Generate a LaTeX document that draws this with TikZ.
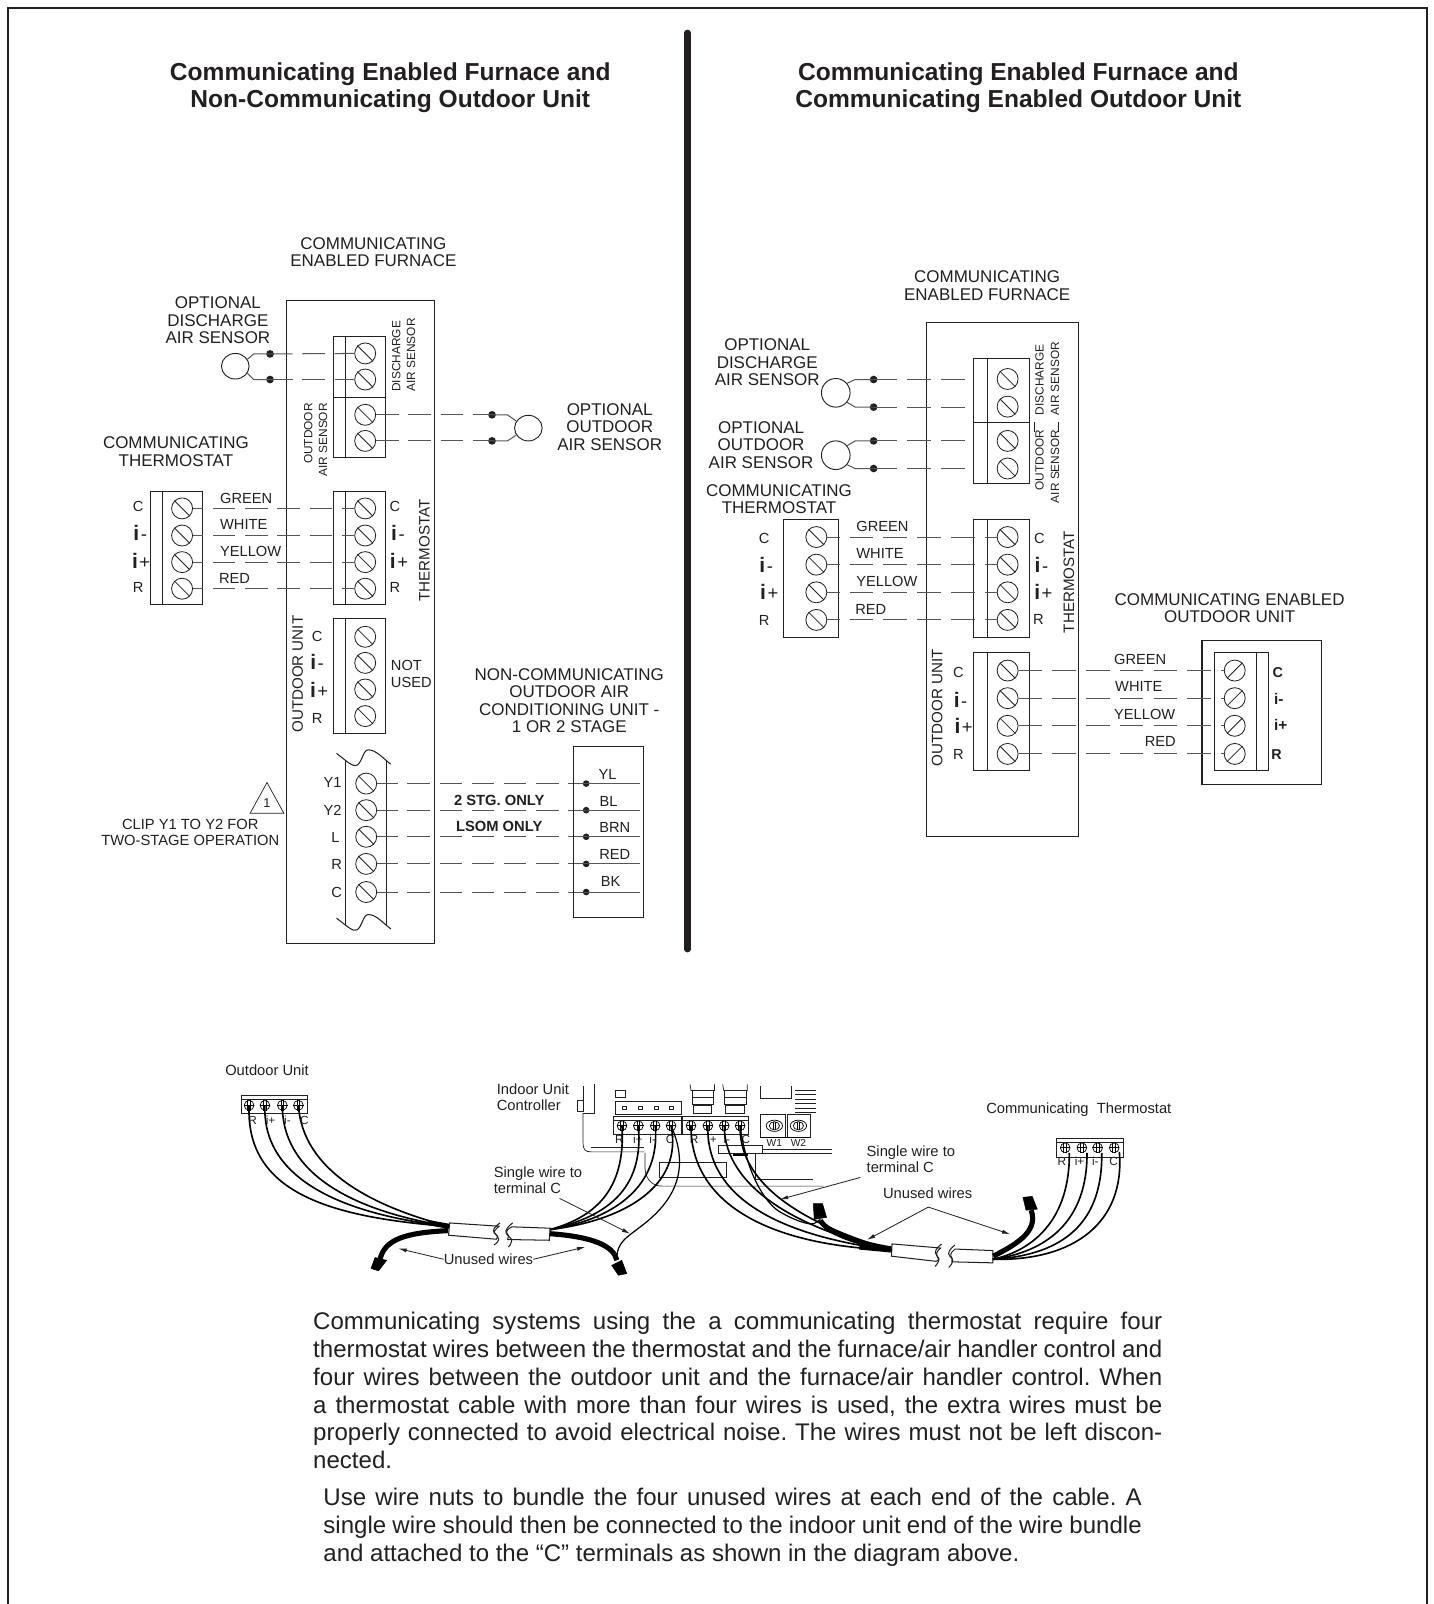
\documentclass[tikz,border=0pt]{standalone}
\usepackage{fontspec}
\setmainfont{Liberation Sans}
\usetikzlibrary{arrows.meta,shapes.geometric}
\definecolor{ink}{HTML}{231F20}
\definecolor{wireink}{HTML}{555555}
\newcounter{lbcnt}
\newcommand{\lab}[3][]{\stepcounter{lbcnt}\node[txt,#1] (lab\thelbcnt) at (#2) {#3};}
\newcommand{\fs}[1]{\fontsize{#1}{#1}\selectfont}
% screw with a back-slash
\newcommand{\screwb}[2]{\node[screwnode] (#1) at (#2) {};\draw[ink,line width=.8] (#1.north west) -- (#1.south east);}
\newcommand{\screwf}[2]{\node[screwnode] (#1) at (#2) {};\draw[ink,line width=.8] (#1.south west) -- (#1.north east);}
% small terminal screw
\newcommand{\minis}[2]{\node[mini] (#1) at (#2) {};\draw[black,line width=1] (#1.west) -- (#1.east);\draw[black,line width=.7] ([xshift=-1.4]#1.north) -- ([xshift=-1.4]#1.south) ([xshift=1.4]#1.north) -- ([xshift=1.4]#1.south);}
\newcommand{\ifont}[1]{{\fs{20.5}\bfseries i}\kern1.5pt{\fs{18}#1}}
\newcommand{\bodyset}{\fontsize{23.5}{27.3}\selectfont\frenchspacing\spaceskip=6.5pt plus 12pt minus 4pt\tolerance=9999\hbadness=10000\hfuzz=30pt}
\tikzset{
  txt/.style={inner sep=0,text=ink,font=\fs{16.6}},
  lbl/.style={txt,font=\fs{14.3}},
  small/.style={txt,font=\fs{11.6}},
  captxt/.style={txt,font=\fs{14.4}},
  tinytxt/.style={txt,font=\fs{11.5}},
  titletxt/.style={txt,font=\fs{24}\bfseries},
  screwnode/.style={circle,draw=ink,line width=.8,minimum size=20.5,inner sep=0,fill=white},
  mini/.style={circle,draw=black,line width=.7,minimum size=9.5,inner sep=0},
  box/.style={draw=ink,line width=1},
  thinbox/.style={draw=ink,line width=.7},
  wire/.style={draw=wireink,line width=1,dash pattern=on 22pt off 9.5pt},
  wireb/.style={draw=wireink,line width=1,dash pattern=on 23pt off 10pt},
  solidw/.style={draw=wireink,line width=1},
  dotn/.style={circle,fill=ink,minimum size=7.5,inner sep=0},
  sensor/.style={ellipse,draw=ink,line width=.9,minimum width=27,minimum height=25,inner sep=0},
  cab/.style={draw=black,line width=1.6},
  thick bundle/.style={draw=black,line width=5},
  arr/.style={draw=ink,line width=.8,-{Latex[length=8pt,width=4pt]}},
  nut/.style={fill=black,draw=black,line width=.5},
}
\begin{document}
\begin{tikzpicture}[x=1pt,y=-1pt]
\path[use as bounding box,fill=white] (0,0) rectangle (1401,1568);
% frame and divider
\draw[ink,line width=2.2] (8,1568) -- (8,8) -- (1395,8) -- (1395,1568);
\draw[ink,line width=6,line cap=round] (672,32) -- (672,928);
% titles
\lab[titletxt,align=center]{381.5,86}{Communicating Enabled Furnace and\\[2pt]Non-Communicating Outdoor Unit}
\lab[titletxt,align=center]{995.5,86}{Communicating Enabled Furnace and\\[2pt]Communicating Enabled Outdoor Unit}

%%%%%%%%%%%%%% LEFT DIAGRAM
\node[box,minimum width=145,minimum height=628,inner sep=0] (furnL) at (352.5,608) {};
\lab[align=center]{365,246.5}{COMMUNICATING\\[.5pt]ENABLED FURNACE}
\lab[align=center]{213,313}{OPTIONAL\\[.5pt]DISCHARGE\\[.5pt]AIR SENSOR}
% discharge / outdoor block
\draw[box] (326,329) rectangle (377,447);
\draw[box] (338,329) -- (338,447) (326,389) -- (377,389);
\screwb{sa}{357,345.5}\screwb{sb}{357,371}\screwb{sc}{357,405.5}\screwb{sd}{357,431}
\node[sensor] (senA) at (230,358) {};
\node[dotn] (da1) at (264,346) {};
\node[dotn] (da2) at (264,371) {};
\draw[solidw] (senA.30) -- (248,346) -- (da1.center) (senA.-30) -- (248,371) -- (da2.center);
\draw[wire,dash phase=0pt] (da1.center) -- (sa.west);
\draw[wire,dash phase=0pt] (da2.center) -- (sb.west);
\node[sensor] (senB) at (516.5,418.5) {};
\node[dotn] (db1) at (481,405.5) {};
\node[dotn] (db2) at (481,431) {};
\draw[wire] (sc.east) -- (db1.center);
\draw[wire] (sd.east) -- (db2.center);
\draw[solidw] (db1.center) -- (496,405.5) -- (senB.150) (db2.center) -- (496,431) -- (senB.210);
\lab[small,rotate=90,anchor=north west,align=left]{383,383}{DISCHARGE\\[3pt]AIR SENSOR}
\lab[small,rotate=90,anchor=north east,align=right]{297,394}{OUTDOOR\\[3pt]AIR SENSOR}
\lab[align=center]{596,417.5}{OPTIONAL\\[.5pt]OUTDOOR\\[.5pt]AIR SENSOR}
% thermostat
\lab[align=center]{172,441.5}{COMMUNICATING\\[.5pt]THERMOSTAT}
\draw[box] (147,480) rectangle (198,590.5);
\draw[box] (158.5,480) -- (158.5,590.5);
\draw[box] (326,480) rectangle (377,590.5);
\draw[box] (338,480) -- (338,590.5);
\foreach \n/\y in {1/497,2/523.5,3/549.5,4/575.5}{
  \screwb{tl\n}{178,\y}\screwb{tc\n}{357,\y}
  \draw[wire,dash phase=12pt] (tl\n.east) -- (tc\n.west);
}
\lab[lbl]{135,495}{C}\lab[lbl]{137,521}{\ifont{-}}\lab[lbl]{138,548}{\ifont{+}}\lab[lbl]{135,574}{R}
\lab[lbl]{386,495}{C}\lab[lbl]{389,521}{\ifont{-}}\lab[lbl]{390,548}{\ifont{+}}\lab[lbl]{386,574}{R}
\lab[lbl,anchor=west]{215,487}{GREEN}\lab[lbl,anchor=west]{215,513}{WHITE}
\lab[lbl,anchor=west]{215,539}{YELLOW}\lab[lbl,anchor=west]{214,565}{RED}
\lab[lbl,rotate=90,font=\fs{14.8}]{415,538}{THERMOSTAT}
% outdoor unit (not used)
\draw[box] (326,605) rectangle (377,717);
\draw[box] (338,605) -- (338,717);
\screwb{ou1}{357,622.5}\screwb{ou2}{357,648}\screwb{ou3}{357,674}\screwb{ou4}{357,700}
\lab[lbl]{310,622}{C}\lab[lbl]{310,647}{\ifont{-}}\lab[lbl]{312,674}{\ifont{+}}\lab[lbl]{310,702}{R}
\lab[lbl,rotate=90,font=\fs{14.8}]{291,659}{OUTDOOR UNIT}
\lab[lbl,align=left,anchor=north west]{382,645}{NOT\\[3pt]USED}
% strip
\draw[box] (329,736.5) .. controls (340,745) and (345,750) .. (349,748) .. controls (354,745) and (355,733) .. (360,733) .. controls (368,733) and (375,742) .. (382,747);
\draw[box] (329,897.5) .. controls (340,906) and (345,911) .. (349,909) .. controls (354,906) and (355,894) .. (360,894) .. controls (368,894) and (375,903) .. (382,908);
\draw[box] (338,743) -- (338,904) (378,744) -- (378,905);
\foreach \n/\y in {1/766,2/792,3/818,4/844.5,5/872}{
  \screwb{y\n}{358,\y}
  \node[dotn,minimum size=6.5] (yd\n) at (573,\y) {};
  \coordinate (ye\n) at (626,\y);
  \draw[wire,dash phase=2pt] (y\n.east) -- (yd\n.center);
  \draw[solidw] (yd\n.center) -- (ye\n);
}
\lab[lbl]{325,765}{Y1}\lab[lbl]{325,792}{Y2}\lab[lbl]{328,819}{L}\lab[lbl]{329,845}{R}\lab[lbl]{329,872}{C}
\draw[thinbox] (261,765) -- (244.5,795) -- (277.5,795) -- cycle;
\lab[small,font=\fs{12.5}]{261,785}{1}
\lab[captxt,align=center]{186,814}{CLIP Y1 TO Y2 FOR\\[1.5pt]TWO-STAGE OPERATION}
\lab[lbl,font=\fs{14.4}\bfseries]{488,782}{2 STG. ONLY}
\lab[lbl,font=\fs{14.4}\bfseries]{488,808}{LSOM ONLY}
\lab[align=center]{556.5,685}{NON-COMMUNICATING\\[.5pt]OUTDOOR AIR\\[.5pt]CONDITIONING UNIT -\\[.5pt]1 OR 2 STAGE}
\node[box,minimum width=68,minimum height=167,inner sep=0] (acbox) at (595,813.5) {};
\lab[lbl]{594,757}{YL}\lab[lbl]{595,783}{BL}\lab[lbl]{601,809}{BRN}\lab[lbl]{601,835}{RED}\lab[lbl]{597,862}{BK}

%%%%%%%%%%%%%% RIGHT DIAGRAM
\node[box,minimum width=149.5,minimum height=503,inner sep=0] (furnR) at (980,566.5) {};
\lab[align=center]{965,279}{COMMUNICATING\\[.5pt]ENABLED FURNACE}
\lab[align=center]{750,354.5}{OPTIONAL\\[.5pt]DISCHARGE\\[.5pt]AIR SENSOR}
\lab[align=center]{744,435}{OPTIONAL\\[.5pt]OUTDOOR\\[.5pt]AIR SENSOR}
\draw[box] (952,350) rectangle (1006,473);
\draw[box] (965,350) -- (965,473) (952,413) -- (1006,413);
\screwb{ra}{985,370.5}\screwb{rb}{985,397.5}\screwb{rc}{985,431}\screwb{rd}{985,458}
\node[sensor,minimum width=28,minimum height=28] (senC) at (817,384) {};
\node[sensor,minimum width=28,minimum height=28] (senD) at (817,445) {};
\foreach \s/\a/\b/\ya/\yb in {senC/raa/rbb/371/398,senD/rcc/rdd/431/458}{
  \node[dotn] (\a) at (854,\ya) {};
  \node[dotn] (\b) at (854,\yb) {};
  \coordinate (\a e) at (946,\ya);
  \coordinate (\b e) at (946,\yb);
  \draw[solidw] (\s.40) -- (836,\ya) -- (\a.center) (\s.-40) -- (836,\yb) -- (\b.center);
  \draw[wireb] (\a.center) -- (\a e);
  \draw[wireb] (\b.center) -- (\b e);
}
\lab[small,rotate=90,anchor=north west,align=left]{1012,406}{DISCHARGE\\[3.5pt]AIR SENSOR}
\lab[small,rotate=90,anchor=north east,align=right]{1012,420}{OUTDOOR\\[3.5pt]AIR SENSOR}
\draw[ink,line width=.8] (1011,413) -- (1011,422) (1035,413) -- (1035,422);
\lab[align=center]{761.5,488}{COMMUNICATING\\[.5pt]THERMOSTAT}
\draw[box] (766,507.5) rectangle (820,623);
\draw[box] (952,507.5) rectangle (1006,623);
\draw[box] (965,507.5) -- (965,623);
\foreach \n/\y in {1/525,2/552,3/579,4/606}{
  \screwb{rtl\n}{798,\y}\screwb{rtc\n}{985,\y}
  \draw[wireb,dash phase=11pt] (rtl\n.east) -- (rtc\n.west);
}
\lab[lbl]{747,526}{C}\lab[lbl]{749,552}{\ifont{-}}\lab[lbl]{752,579}{\ifont{+}}\lab[lbl]{747,607}{R}
\lab[lbl]{1016,526}{C}\lab[lbl]{1018,552}{\ifont{-}}\lab[lbl]{1020,579}{\ifont{+}}\lab[lbl]{1015,606}{R}
\lab[lbl,anchor=west]{837,515}{GREEN}\lab[lbl,anchor=west]{837,541.5}{WHITE}
\lab[lbl,anchor=west]{837,568}{YELLOW}\lab[lbl,anchor=west]{836,595.5}{RED}
\lab[lbl,rotate=90,font=\fs{14.8}]{1045,569}{THERMOSTAT}
% outdoor
\draw[box] (952,637.5) rectangle (1006,753);
\draw[box] (965,637.5) -- (965,753);
\node[box,minimum width=117,minimum height=141,inner sep=0] (rob) at (1233.5,696.5) {};
\draw[box] (1187,637.5) rectangle (1240,753);
\draw[box] (1228,637.5) -- (1228,753);
\foreach \n/\y in {1/655.5,2/682.5,3/709.5,4/737}{
  \screwb{ro\n}{985,\y}\screwf{rp\n}{1207,\y}
  \draw[wireb] (ro\n.east) -- (rp\n.west);
}
\lab[lbl]{937,657}{C}\lab[lbl]{939,684}{\ifont{-}}\lab[lbl]{942,710}{\ifont{+}}\lab[lbl]{937,738}{R}
\lab[lbl,rotate=90,font=\fs{14.8}]{916,692}{OUTDOOR UNIT}
\lab[lbl,font=\fs{14}\bfseries]{1249,657}{C}\lab[lbl,font=\fs{15}\bfseries]{1250,683}{i-}\lab[lbl,font=\fs{15}\bfseries]{1252,709}{i+}\lab[lbl,font=\fs{14}\bfseries]{1248,738}{R}
\lab[lbl,anchor=west]{1089,645}{GREEN}\lab[lbl,anchor=west]{1090,671}{WHITE}
\lab[lbl,anchor=west]{1089,698}{YELLOW}\lab[lbl,anchor=west]{1119,725}{RED}
\lab[align=center]{1202,594.5}{COMMUNICATING ENABLED\\[.5pt]OUTDOOR UNIT}

%%%%%%%%%%%%%% BOTTOM DRAWING
% outdoor unit terminal
\lab[captxt,anchor=west]{220,1046}{Outdoor Unit}
\draw[thinbox] (235.5,1071) rectangle (300.5,1088.5) (235.5,1075) -- (300.5,1075);
\minis{oa}{243.5,1080.5}\minis{ob}{259,1080.5}\minis{oc}{276,1080.5}\minis{od}{291.7,1080.5}
\lab[tinytxt]{247,1095}{R}\lab[tinytxt]{264.5,1095}{i+}\lab[tinytxt]{281,1095}{i-}\lab[tinytxt]{297.5,1095}{C}
% wires to left cable
\coordinate (cl) at (440,1199);
\draw[cab] (oa.center) .. controls (240,1165) and (320,1190) .. (cl);
\draw[cab] (ob.center) .. controls (256,1155) and (340,1188) .. (cl);
\draw[cab] (oc.center) .. controls (276,1150) and (350,1185) .. (cl);
\draw[cab] (od.center) .. controls (296,1145) and (365,1180) .. (cl);
\draw[draw=black,line width=5] (418,1195) -- (cl);
% unused left
\coordinate (nl) at (371.5,1231);
\draw[thick bundle] (438,1203) .. controls (395,1205) and (376,1212) .. (nl);
\fill[nut] (366.6,1229.3) -- (378,1232) -- (370,1242.3) -- (362.7,1240) -- cycle;
% controller
\lab[captxt,anchor=west]{485.5,1065}{Indoor Unit}
\lab[captxt,anchor=west]{485.5,1080.5}{Controller}
\draw[thinbox] (570,1062) -- (570,1086) -- (564.5,1086) -- (564.5,1076) -- (570,1076);
\draw[thinbox] (581,1060) -- (581,1088) -- (570,1088);
\draw[thinbox] (570,1088) -- (570,1117) .. controls (570,1124) and (572,1126) .. (578,1126) -- (630,1126);
\draw[thinbox] (578,1122) -- (630,1122);
\draw[thinbox] (601.5,1065.5) rectangle (611.5,1073);
\draw[thinbox] (602,1076.5) rectangle (666,1089.5);
\foreach \x in {610.4,625.7,641.3,656.7}{\draw[thinbox] (\x-2,1081.5) rectangle (\x+2,1084.5);}
\draw[thinbox] (599.5,1091) rectangle (666,1109) (599.5,1095.5) -- (666,1095.5);
\draw[thinbox] (667.5,1091) rectangle (732,1109) (667.5,1095.5) -- (732,1095.5);
\minis{ia}{608,1100.5}\minis{ib}{624,1100.5}\minis{ic}{640.5,1100.5}\minis{id}{656,1100.5}
\minis{ie}{675.5,1100.5}\minis{if}{692,1100.5}\minis{ig}{708,1100.5}\minis{ih}{723.5,1100.5}
\lab[tinytxt]{605.5,1114}{R}\lab[tinytxt]{623.5,1114}{i+}\lab[tinytxt]{638,1114}{i-}\lab[tinytxt]{655,1114}{C}
\lab[tinytxt]{678.5,1114}{R}\lab[tinytxt]{696,1114}{i+}\lab[tinytxt]{710.5,1114}{i-}\lab[tinytxt]{729,1114}{C}
\foreach \x in {674.5,706.5}{
  \draw[thinbox] (\x,1060) -- (\x+1,1066) -- (\x+24,1066) -- (\x+24,1060);
  \draw[thinbox] (\x+2,1066) rectangle (\x+23,1073) (\x+2,1073) rectangle (\x+23,1080) (\x+3,1081) rectangle (\x+21,1088);
}
\draw[thinbox] (743.5,1062) -- (743.5,1074) -- (774,1074) -- (774,1062);
\foreach \yy in {1066,1070,1075,1079,1083,1087}{\draw[thinbox] (777,\yy) -- (798,\yy);}
\draw[thinbox] (743,1089.5) rectangle (768,1111.5) (770,1089.5) rectangle (792,1111.5);
\draw[black,line width=1.4] (743,1112) -- (792,1112);
\foreach \x/\nm in {757/wa,780.5/wb}{
  \node[mini,ellipse,minimum width=16,minimum height=11] (\nm) at (\x,1100.5) {};
  \node[mini,ellipse,minimum width=10,minimum height=8] (\nm i) at (\x,1100.5) {};
  \draw[black,line width=.7] (\x-1.2,1096.5) -- (\x-1.2,1104.5) (\x+1.2,1096.5) -- (\x+1.2,1104.5);
}
\lab[tinytxt,font=\fs{10}]{757,1117}{W1}\lab[tinytxt,font=\fs{10}]{780.5,1117}{W2}
\draw[thinbox] (702,1119.5) -- (745,1119.5) -- (745,1127) -- (702,1127) -- cycle;
\draw[black,line width=1.3] (717,1129) -- (731,1129);
\draw[thinbox] (745,1124) -- (813,1124) (745,1127) -- (813,1127);
\draw[thinbox] (738,1127) -- (738,1153) -- (795,1153);
\draw[thinbox] (645,1136) rectangle (710,1151);
\draw[thinbox] (630.5,1127) -- (630.5,1142) .. controls (631,1153) and (638,1159.5) .. (647,1159.5) -- (805,1159.5);
% wires right of left controller
\coordinate (cr) at (537.7,1202);
\draw[cab] (ia.center) .. controls (612,1165) and (580,1190) .. (cr);
\draw[cab] (ib.center) .. controls (630,1165) and (590,1190) .. (cr);
\draw[cab] (ic.center) .. controls (646,1160) and (600,1192) .. (cr);
\draw[cab] (id.center) .. controls (668,1160) and (610,1193) .. (cr);
\coordinate (nr) at (603,1232);
\draw[cab,line width=1.2] (id.center) .. controls (678,1150) and (652,1180) .. (625,1200) .. controls (612,1210) and (603,1215) .. (603,1230);
\draw[thick bundle] (537.7,1206) .. controls (580,1209) and (600,1218) .. (nr);
\fill[nut] (598,1237) -- (607.8,1232) -- (612.7,1245) -- (604.5,1246.6) -- cycle;
% left cable with break
\draw[ink,line width=1,fill=white] (439.5,1195.5) -- (488,1198.7) .. controls (484,1202) and (482,1204) .. (484,1206) .. controls (486,1208) and (487.5,1209) .. (485,1211.4) -- (438.5,1207.5) -- cycle;
\draw[ink,line width=1,fill=white] (500.5,1199.3) -- (537.7,1200.6) -- (537,1212.4) -- (496.3,1211.7) .. controls (498,1209) and (497,1207) .. (495.5,1205.5) .. controls (494.5,1203) and (497,1201) .. (500.5,1199.3);
\draw[ink,line width=1] (488.8,1195.4) .. controls (484,1199) and (481,1202) .. (483,1205) .. controls (486,1208) and (488,1210) .. (487.5,1212) .. controls (487,1214) and (485,1216) .. (483,1217);
\draw[ink,line width=1] (501.2,1195.4) .. controls (497,1199) and (493,1202) .. (495,1206) .. controls (497,1209) and (501,1211) .. (500.2,1213) .. controls (500,1216) and (498,1218) .. (497,1219);
\lab[captxt]{477.5,1231}{Unused wires}
\coordinate (ua) at (389.5,1220.5);
\coordinate (ub) at (572,1219);
\draw[arr] (lab\thelbcnt.west) -- (ua);
\draw[arr] (lab\thelbcnt.east) -- (ub);
\lab[captxt,anchor=west,align=left]{482.5,1154}{Single wire to\\[1.5pt]terminal C}
\coordinate (sa1) at (547,1171.5);
\coordinate (sa2) at (616,1206);
\draw[arr] (sa1) -- (sa2);
% right cable
\coordinate (cm) at (872,1222);
\draw[cab] (ie.center) .. controls (675,1170) and (740,1217) .. (cm);
\draw[cab] (if.center) .. controls (690,1170) and (760,1208) .. (cm);
\draw[cab] (ig.center) .. controls (708,1160) and (780,1202) .. (cm);
\draw[cab] (ih.center) .. controls (722,1160) and (790,1198) .. (cm);
\coordinate (mn) at (802,1192);
\draw[cab,line width=1.2] (ih.center) .. controls (730,1150) and (750,1178) .. (763,1185) .. controls (775,1192) and (790,1198) .. (796,1196) -- (mn);
\draw[thick bundle] (872,1221) .. controls (840,1216) and (808,1205) .. (802,1193);
\draw[draw=black,line width=5] (840,1219) -- (cm);
\fill[nut] (795,1176.5) -- (804,1176.5) -- (808,1190) -- (796,1192) -- cycle;
\draw[ink,line width=1,fill=white] (872,1216) -- (919.5,1220) .. controls (915,1224) and (915,1226) .. (916,1228) .. controls (918,1231) and (918,1232) .. (915,1233) -- (871.5,1228) -- cycle;
\draw[ink,line width=1,fill=white] (933.5,1221) -- (970.5,1222.5) -- (970.5,1234.5) -- (930.5,1233.5) .. controls (931.5,1231) and (930.5,1229) .. (929.5,1228) .. controls (928.5,1225) and (931.5,1223) .. (933.5,1221);
\draw[ink,line width=1] (920.5,1216) .. controls (915,1220) and (913,1224) .. (915.5,1227) .. controls (918,1230) and (919,1232) .. (917,1234) .. controls (916,1236) and (915,1237) .. (914,1238);
\draw[ink,line width=1] (933.5,1217) .. controls (928.5,1221) and (925.5,1225) .. (928.5,1228) .. controls (931.5,1231) and (932.5,1233) .. (930.5,1235) .. controls (929.5,1237) and (928.5,1238) .. (927.5,1239);
\lab[captxt,anchor=west]{863,1166.5}{Unused wires}
\coordinate (ua0) at (907.5,1180);
\coordinate (ua1) at (847.5,1212);
\coordinate (ua2) at (987.5,1206.5);
\draw[arr] (ua0) -- (ua1);
\draw[arr] (ua0) -- (ua2);
\lab[captxt,anchor=west,align=left]{847,1133}{Single wire to\\[1.5pt]terminal C}
\coordinate (sb1) at (841,1151);
\coordinate (sb2) at (762.5,1172.5);
\draw[arr] (sb1) -- (sb2);
% thermostat terminal
\lab[captxt,anchor=west]{964,1085}{Communicating\ \ Thermostat}
\draw[thinbox] (1033,1113) rectangle (1098,1131) (1033,1117) -- (1098,1117);
\minis{ka}{1041.3,1122}\minis{kb}{1057.6,1122}\minis{kc}{1073,1122}\minis{kd}{1089.2,1122}
\lab[tinytxt]{1038,1135}{R}\lab[tinytxt]{1055.3,1135}{i+}\lab[tinytxt]{1070.7,1135}{i-}\lab[tinytxt]{1088.6,1135}{C}
\coordinate (ck) at (970.5,1231);
\draw[cab] (ka.center) ++(4,5) .. controls (1046,1190) and (1012,1222) .. (ck);
\draw[cab] (kb.center) ++(5,5) .. controls (1063,1195) and (1022,1224) .. (ck);
\draw[cab] (kc.center) ++(4,5) .. controls (1078,1195) and (1040,1227) .. (ck);
\draw[cab] (kd.center) ++(5,4) .. controls (1100,1195) and (1050,1233) .. (ck);
\draw[thick bundle] (971,1228) .. controls (990,1218) and (1016,1205) .. (1008,1183);
\fill[nut] (1000,1170.5) -- (1009,1169.5) -- (1014,1182) -- (1003,1183) -- cycle;
% body text
\lab[anchor=north west,text width=830,align=justify,font=\bodyset]{306,1282.2}{Communicating systems using the a communicating thermostat require four\linebreak thermostat wires between the thermostat and the furnace/air handler control and\linebreak four wires between the outdoor unit and the furnace/air handler control. When\linebreak a thermostat cable with more than four wires is used, the extra wires must be\linebreak properly connected to avoid electrical noise. The wires must not be left discon-\linebreak nected.}
\lab[anchor=north west,text width=800,align=justify,font=\bodyset]{316,1454.2}{Use wire nuts to bundle the four unused wires at each end of the cable. A\linebreak single wire should then be connected to the indoor unit end of the wire bundle\linebreak and attached to the “C” terminals as shown in the diagram above.}
\end{tikzpicture}
\end{document}
